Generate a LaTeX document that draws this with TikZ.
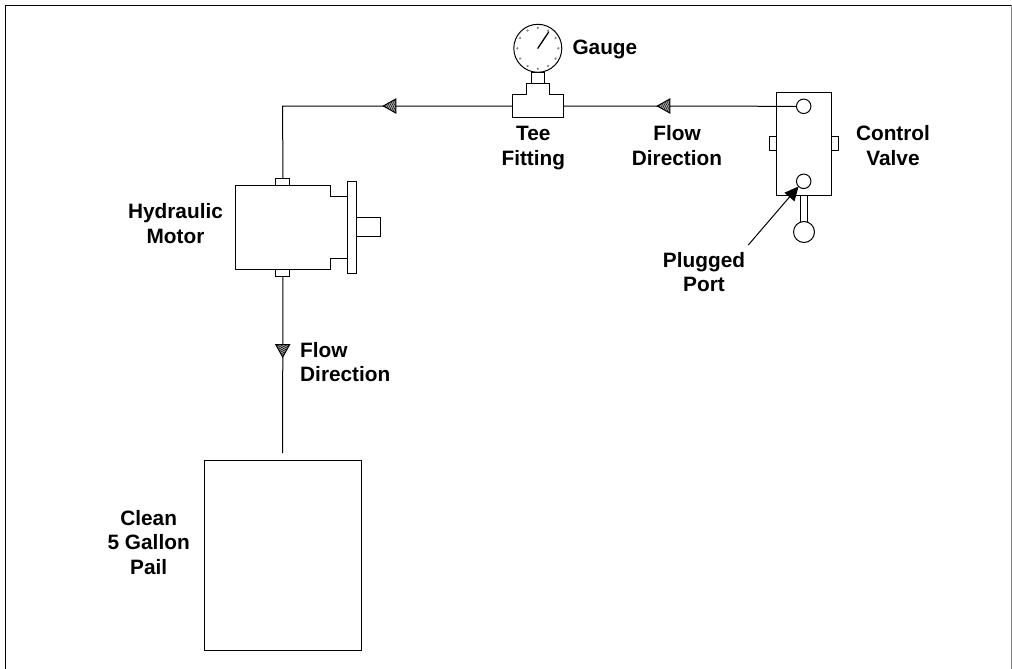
\documentclass[tikz,border=0pt]{standalone}
\usepackage{fontspec}
\setmainfont{Liberation Sans}
\usetikzlibrary{arrows.meta}
\tikzset{
  x=1pt,y=-1pt,
  line/.style={draw=black,line width=1pt},
  part/.style={line,fill=white,rectangle,inner sep=0pt,outer sep=0pt},
  round part/.style={line,fill=white,circle,inner sep=0pt,outer sep=0pt},
  label/.style={font=\bfseries\fontsize{20.8}{24.7}\selectfont,align=center,text=black,inner sep=0pt,anchor=base},
  tickdot/.style={fill=black!45,draw=none},
  flowtip/.pic={
    \fill[black!35] (0,0)--(12.5,-7)--(12.5,7)--cycle;
    \begin{scope}
      \clip (0,0)--(12.5,-7)--(12.5,7)--cycle;
      \foreach \k in {-16,-14,...,16}{\draw[black,line width=0.5pt] (\k,-8)--(\k+8,8);}
    \end{scope}
    \draw[line] (0,0)--(12.5,-7)--(12.5,7)--cycle;
  }
}
\begin{document}
\begin{tikzpicture}
\useasboundingbox (0,0) rectangle (1012,669);
% frame
\coordinate (fbl) at (5.5,669); \coordinate (ftl) at (5.5,5.5);
\coordinate (ftr) at (1011.3,5.5); \coordinate (fbr) at (1011.3,669);
\draw[black,line width=1.3pt] (fbl)--(ftl)--(ftr);
\draw[black!50,line width=1pt] (ftr)--(fbr);
% junction coordinates
\coordinate (corner) at (282.7,106);
% gauge
\node[part,minimum width=13pt,minimum height=11pt] (stem) at (537.8,78) {};
\draw[line,fill=white] (526.7,94.5)--(526.7,83.5)--(549.7,83.5)--(549.7,94.5)--(563.3,94.5)--(563.3,117.5)--(512.7,117.5)--(512.7,94.5)--cycle;
\coordinate (teeW) at (512.7,106); \coordinate (teeE) at (563.3,106);
\node[round part,minimum size=48pt] (dial) at (537.8,48.3) {};
\foreach \a in {0,30,...,330}{\fill[tickdot] (dial.center)++(\a:20.5) circle (1.3);}
\coordinate (ndl) at (548.7,32);
\draw[black,line width=1.3pt,line cap=round] (dial.center)--(ndl);
% valve
\node[part,minimum width=7.4pt,minimum height=14pt] (tabL) at (773,143.7) {};
\node[part,minimum width=7.4pt,minimum height=14pt] (tabR) at (835,143.7) {};
\node[part,minimum width=7.4pt,minimum height=28pt] (lever) at (804,209) {};
\node[part,minimum width=54.6pt,minimum height=102.7pt] (valve) at (804,143.7) {};
\node[round part,minimum size=14.5pt] (portA) at (803.7,106.3) {};
\node[round part,minimum size=14.5pt] (portB) at (803.7,181.3) {};
\node[round part,minimum size=21pt] (knob) at (804,232) {};
% motor
\node[part,minimum width=14.3pt,minimum height=7pt] (mtop) at (282.8,181.5) {};
\node[part,minimum width=14.3pt,minimum height=7pt] (mbot) at (282.8,272.8) {};
\node[part,minimum width=24pt,minimum height=18.6pt] (shaft) at (368.7,227) {};
\draw[line,fill=white] (235.3,185)--(330.3,185)--(330.3,196.3)--(347.3,196.3)--(347.3,258.3)--(330.3,258.3)--(330.3,269.3)--(235.3,269.3)--cycle;
\node[part,minimum width=9.4pt,minimum height=91.7pt] (flange) at (352,227.2) {};
% pail
\node[part,minimum width=157pt,minimum height=190pt] (pail) at (282.5,555) {};
\coordinate (pailIn) at (282.7,453);
% pipes
\draw[line] (portA.west)--(teeE);
\draw[line] (teeW)--(corner)--(mtop.north);
\draw[line] (mbot.south)--(pailIn);
% flow arrows
\pic at (657.3,106) {flowtip};
\pic at (383.3,106) {flowtip};
\pic[rotate=90] at (282.7,357) {flowtip};
% plugged port leader
\coordinate (plugTail) at (748.3,245);
\draw[black,line width=1pt,-{Triangle[length=14pt,width=13pt]}] (plugTail)--(portB.south west);
% labels
\node[label] (lplug) at (704,291.7) {Plugged\\Port};
\node[label,anchor=base west] (lgauge) at (572.3,55) {Gauge};
\node[label] (ltee) at (533.3,165) {Tee\\Fitting};
\node[label] (lflow) at (677,165) {Flow\\Direction};
\node[label] (lvalve) at (893,165) {Control\\Valve};
\node[label] (lmotor) at (175.5,243.5) {Hydraulic\\Motor};
\node[label,align=left,anchor=base west] (lflow2) at (300,381.7) {Flow\\Direction};
\node[label] (lpail) at (148.7,574.5) {Clean\\5 Gallon\\Pail};
\end{tikzpicture}
\end{document}
